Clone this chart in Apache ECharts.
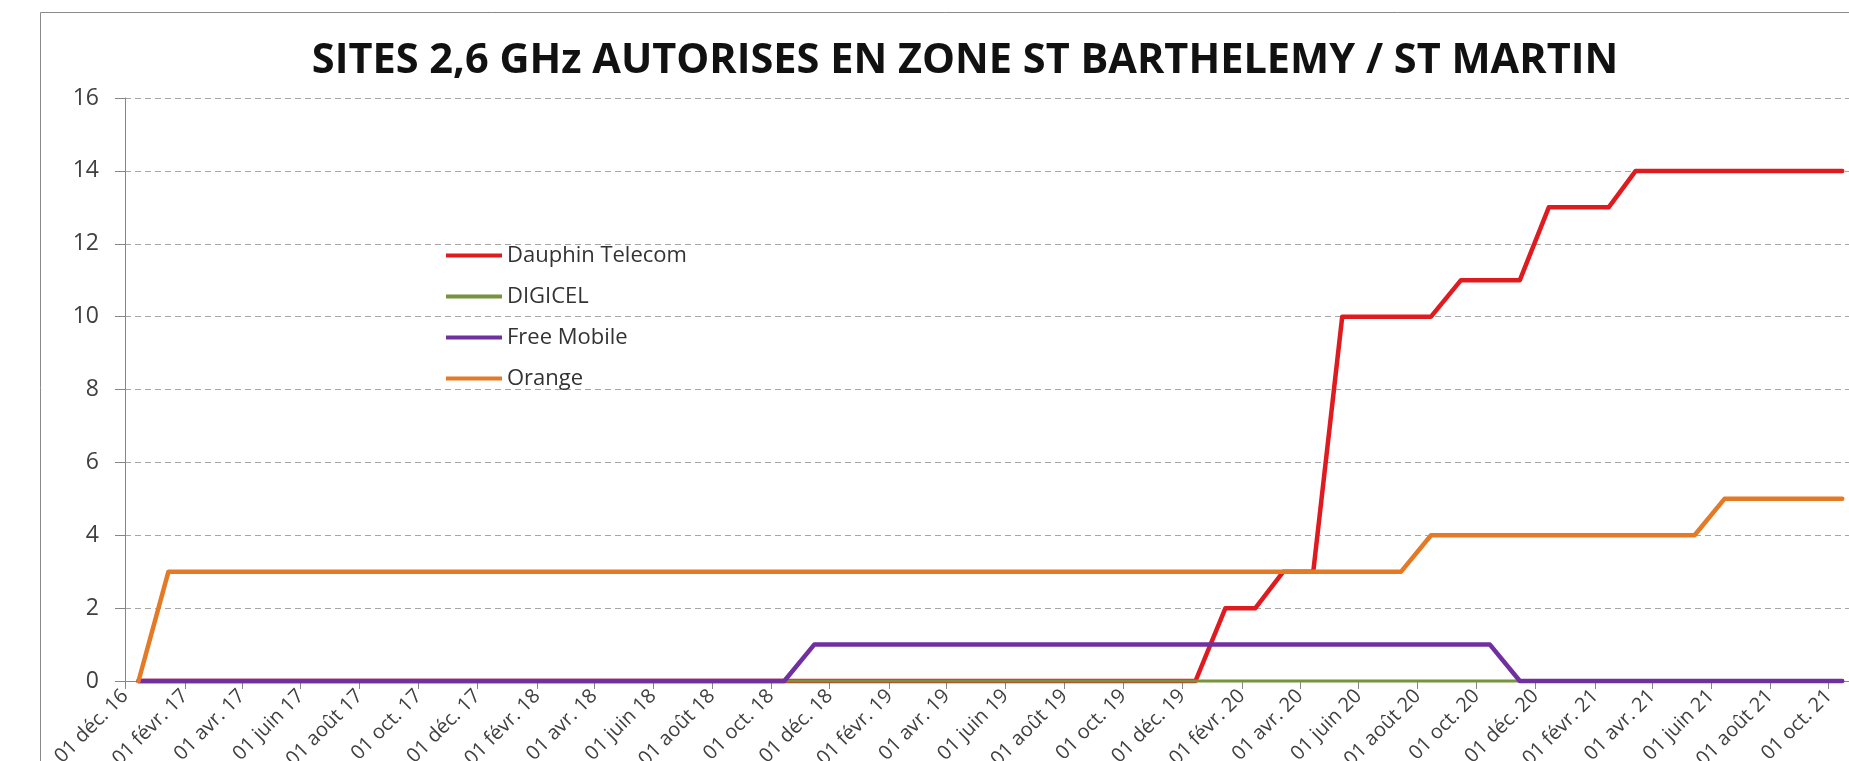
<!DOCTYPE html>
<html>
<head>
<meta charset="utf-8">
<script src="https://cdn.jsdelivr.net/npm/echarts@6/dist/echarts.min.js"></script>
<style>
html,body{margin:0;padding:0;background:#fff;}
#chart{width:1849px;height:761px;}
</style>
</head>
<body>
<div id="chart"></div>
<script>
// ---- Data (monthly points, mid-month) ----
const dates = [
  '2016-12-15',
  '2017-01-15','2017-02-15','2017-03-15','2017-04-15','2017-05-15','2017-06-15','2017-07-15','2017-08-15','2017-09-15','2017-10-15','2017-11-15','2017-12-15',
  '2018-01-15','2018-02-15','2018-03-15','2018-04-15','2018-05-15','2018-06-15','2018-07-15','2018-08-15','2018-09-15','2018-10-15','2018-11-15','2018-12-15',
  '2019-01-15','2019-02-15','2019-03-15','2019-04-15','2019-05-15','2019-06-15','2019-07-15','2019-08-15','2019-09-15','2019-10-15','2019-11-15','2019-12-15',
  '2020-01-15','2020-02-15','2020-03-15','2020-04-15','2020-05-15','2020-06-15','2020-07-15','2020-08-15','2020-09-15','2020-10-15','2020-11-15','2020-12-15',
  '2021-01-15','2021-02-15','2021-03-15','2021-04-15','2021-05-15','2021-06-15','2021-07-15','2021-08-15','2021-09-15','2021-10-15'
];
const dauphinTelecom = [
  0,
  0,0,0,0,0,0,0,0,0,0,0,0,
  0,0,0,0,0,0,0,0,0,0,0,0,
  0,0,0,0,0,0,0,0,0,0,0,0,
  2,2,3,3,10,10,10,10,11,11,11,13,
  13,13,14,14,14,14,14,14,14,14
];
const digicel = [
  0,
  0,0,0,0,0,0,0,0,0,0,0,0,
  0,0,0,0,0,0,0,0,0,0,0,0,
  0,0,0,0,0,0,0,0,0,0,0,0,
  0,0,0,0,0,0,0,0,0,0,0,0,
  0,0,0,0,0,0,0,0,0,0
];
const freeMobile = [
  0,
  0,0,0,0,0,0,0,0,0,0,0,0,
  0,0,0,0,0,0,0,0,0,0,1,1,
  1,1,1,1,1,1,1,1,1,1,1,1,
  1,1,1,1,1,1,1,1,1,1,0,0,
  0,0,0,0,0,0,0,0,0,0
];
const orange = [
  0,
  3,3,3,3,3,3,3,3,3,3,3,3,
  3,3,3,3,3,3,3,3,3,3,3,3,
  3,3,3,3,3,3,3,3,3,3,3,3,
  3,3,3,3,3,3,3,4,4,4,4,4,
  4,4,4,4,4,5,5,5,5,5
];
const tickDates = [
  '2016-12-01','2017-02-01','2017-04-01','2017-06-01','2017-08-01','2017-10-01',
  '2017-12-01','2018-02-01','2018-04-01','2018-06-01','2018-08-01','2018-10-01',
  '2018-12-01','2019-02-01','2019-04-01','2019-06-01','2019-08-01','2019-10-01',
  '2019-12-01','2020-02-01','2020-04-01','2020-06-01','2020-08-01','2020-10-01',
  '2020-12-01','2021-02-01','2021-04-01','2021-06-01','2021-08-01','2021-10-01'
];
const tickLabels = [
  '01 déc. 16','01 févr. 17','01 avr. 17','01 juin 17','01 août 17','01 oct. 17',
  '01 déc. 17','01 févr. 18','01 avr. 18','01 juin 18','01 août 18','01 oct. 18',
  '01 déc. 18','01 févr. 19','01 avr. 19','01 juin 19','01 août 19','01 oct. 19',
  '01 déc. 19','01 févr. 20','01 avr. 20','01 juin 20','01 août 20','01 oct. 20',
  '01 déc. 20','01 févr. 21','01 avr. 21','01 juin 21','01 août 21','01 oct. 21'
];
const seriesNames = ['Dauphin Telecom','DIGICEL','Free Mobile','Orange'];
const seriesColors = ['#e01b1f','#77933c','#7030a0','#e47a26'];
const titleText = 'SITES 2,6 GHz AUTORISES EN ZONE ST BARTHELEMY / ST MARTIN';

// ---- Build ----
const DAY = 86400000;
const ts = d => { const p = d.split('-'); return Date.UTC(+p[0], +p[1]-1, +p[2]) / DAY; };
const tickTs = tickDates.map(ts);
const pair = arr => dates.map((d,i) => [ts(d), arr[i]]);
const allValues = [dauphinTelecom, digicel, freeMobile, orange];
const widths = [4.5, 3, 4.5, 4.5];

const FONT = 'Open Sans';
const chart = echarts.init(document.getElementById('chart'), null, {renderer:'canvas'});
chart.setOption({
  animation: false,
  backgroundColor: '#ffffff',
  graphic: [{
    type: 'rect', silent: true, z: -10,
    shape: {x: 40.5, y: 12.5, width: 2000, height: 1000},
    style: {fill: 'none', stroke: '#8a8a8a', lineWidth: 1}
  }],
  title: {
    text: titleText,
    left: 960, top: 35, textAlign: 'center',
    textStyle: {fontFamily: FONT, fontWeight: 'bold', fontSize: 41.5, color: '#111'}
  },
  legend: {
    orient: 'vertical',
    left: 441, top: 239,
    itemWidth: 56, itemHeight: 4, itemGap: 18,
    icon: 'rect',
    data: seriesNames,
    textStyle: {fontFamily: FONT, fontSize: 22, color: '#333', lineHeight: 23}
  },
  grid: {left: 125, right: 0, top: 98, bottom: 80, containLabel: false, outerBoundsMode: 'none'},
  xAxis: {
    type: 'value',
    min: ts('2016-12-01'),
    max: ts('2021-10-22'),
    axisLine: {show: true, lineStyle: {color: '#868686', width: 1}},
    axisTick: {show: true, length: 8, lineStyle: {color: '#868686'}, customValues: tickTs},
    splitLine: {show: false},
    axisLabel: {
      customValues: tickTs,
      rotate: 45, margin: 12,
      verticalAlign: 'middle',
      padding: [44, 0, 0, 0],
      fontFamily: FONT, fontSize: 20, color: '#404040',
      formatter: v => { const i = tickTs.indexOf(v); return i >= 0 ? tickLabels[i] : ''; }
    }
  },
  yAxis: {
    type: 'value',
    min: 0, max: 16, interval: 2,
    axisLine: {show: true, lineStyle: {color: '#868686', width: 1}},
    axisTick: {show: true, inside: false, length: 10, lineStyle: {color: '#868686'}},
    axisLabel: {margin: 26, fontFamily: FONT, fontSize: 23, color: '#404040'},
    splitLine: {show: true, lineStyle: {color: '#a6a6a6', type: [6,4], width: 1}}
  },
  series: seriesNames.map((n,k) => ({
    name: n, type: 'line',
    data: pair(allValues[k]),
    showSymbol: false, symbol: 'none',
    clip: false,
    z: 2 + k,
    color: seriesColors[k],
    lineStyle: {color: seriesColors[k], width: widths[k], cap: 'round', join: 'round'}
  }))
});
</script>
</body>
</html>
